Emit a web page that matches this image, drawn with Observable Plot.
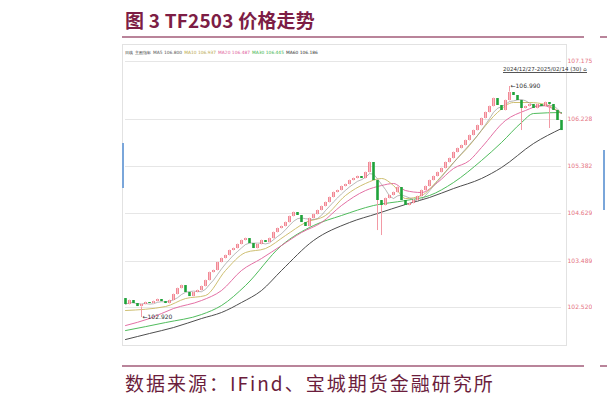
<!DOCTYPE html>
<html><head><meta charset="utf-8">
<script src="https://cdn.jsdelivr.net/npm/d3@7"></script>
<script src="https://cdn.jsdelivr.net/npm/@observablehq/plot@0.6"></script>
<style>
body{margin:0;background:#fff;}
#wrap{position:relative;width:607px;height:405px;overflow:hidden;font-family:"Noto Sans CJK SC","Noto Sans",sans-serif;}
#title{position:absolute;left:125px;top:10px;font-size:19px;line-height:19px;font-weight:700;color:#7d1d45;white-space:nowrap;letter-spacing:0.2px;}
.rule{position:absolute;height:2px;background:#b9849a;}
#panel{position:absolute;left:122px;top:44px;width:445px;height:302px;border:1px solid #e2e2e2;box-sizing:border-box;}
#chart{position:absolute;left:122px;top:44px;}
#legend{position:absolute;left:125px;top:50px;font-size:4.4px;line-height:5px;white-space:nowrap;color:#666;font-family:"DejaVu Sans",sans-serif;}
#legend span{margin-right:2px;}
#range{position:absolute;left:503px;top:66px;font-size:5.5px;line-height:6px;color:#333;border-bottom:1px solid #555;white-space:nowrap;font-family:"DejaVu Sans",sans-serif;}
#source{position:absolute;left:125px;top:373px;font-size:19px;line-height:19px;color:#6b1d3c;white-space:nowrap;letter-spacing:2px;}
.blue{position:absolute;width:2px;background:#7aa6da;}
</style></head>
<body><div id="wrap">
<div id="title">图 3 TF2503 价格走势</div>
<div class="rule" style="left:122px;top:36px;width:462px"></div>
<div class="rule" style="left:600px;top:36px;width:7px"></div>
<div id="panel"></div>
<div class="blue" style="left:122px;top:143px;height:45px"></div>
<div class="blue" style="left:603px;top:150px;height:60px"></div>
<div id="chart"></div>
<div id="legend"></div>
<div id="range">2024/12/27-2025/02/14 (30) ⌂</div>
<div class="rule" style="left:122px;top:365px;width:462px"></div>
<div class="rule" style="left:600px;top:365px;width:7px"></div>
<div id="source">数据来源：IFind、宝城期货金融研究所</div>
</div>
<script>
// daily closes (TF2503)
const firstOpen = 103.254;
const closes = [
103.149,103.219,103.166,103.113,103.149,103.184,103.166,103.201,103.237,103.201,
103.166,103.219,103.325,103.430,103.483,103.360,103.289,103.360,103.395,103.466,
103.571,103.712,103.748,103.889,103.959,104.012,104.100,104.135,104.206,104.276,
104.311,104.223,104.135,104.206,104.276,104.241,104.311,104.417,104.488,104.523,
104.593,104.699,104.770,104.717,104.593,104.523,104.664,104.734,104.805,104.875,
104.946,105.034,105.122,105.157,105.228,105.263,105.333,105.369,105.404,105.369,
105.474,105.651,105.333,104.981,104.893,105.016,105.069,105.122,105.210,104.981,
104.893,104.928,104.981,105.051,105.157,105.228,105.333,105.404,105.474,105.545,
105.651,105.721,105.827,105.897,105.950,106.038,106.126,106.214,106.302,106.426,
106.532,106.637,106.778,106.655,106.567,106.743,106.884,106.831,106.743,106.602,
106.637,106.673,106.602,106.673,106.637,106.708,106.673,106.567,106.391,106.214
];
// notable wicks
const wicks = [
  {i:4, low:102.919, label:"←102.920"},
  {i:63, low:104.452},
  {i:64, low:104.364},
  {i:96, high:106.990, label:"←106.990"},
  {i:99, low:106.214},
  {i:106, low:106.250}
];
// moving averages (index, value)
const maLong = [[0,102.532],[6,102.638],[12,102.743],[19,102.902],[24,103.008],[29,103.184],[34,103.395],[39,103.748],[47,104.276],[56,104.593],[63,104.752],[70,104.911],[76,105.034],[82,105.192],[89,105.369],[94,105.562],[102,105.985],[109,106.250]];
const maGreen = [[0,102.690],[10,102.831],[19,102.972],[24,103.131],[30,103.483],[39,104.188],[47,104.540],[54,104.717],[62,104.893],[70,104.981],[76,105.069],[82,105.298],[89,105.686],[94,106.003],[99,106.355],[102,106.514],[109,106.532]];
const maPink = [[0,102.778],[6,102.902],[12,103.078],[19,103.219],[24,103.395],[29,103.748],[34,103.959],[39,104.188],[44,104.417],[49,104.593],[54,104.893],[60,105.157],[64,105.245],[67,105.281],[70,105.157],[74,105.122],[78,105.298],[82,105.545],[86,105.686],[89,105.915],[95,106.391],[100,106.567],[104,106.655],[109,106.514]];
const maOlive = [[0,103.043],[10,103.113],[15,103.254],[20,103.307],[25,103.748],[30,104.065],[35,104.135],[40,104.364],[45,104.593],[50,104.717],[55,105.069],[60,105.281],[64,105.369],[67,105.245],[70,105.016],[74,105.069],[78,105.333],[82,105.651],[86,105.950],[89,106.214],[93,106.532],[97,106.708],[101,106.708],[105,106.673],[109,106.514]];
// y axis
const yTicks = [107.430, 106.409, 105.580, 104.752, 103.906, 103.096];
const yTickLabels = ["107.175","106.228","105.382","104.629","103.489","102.520"];
// legend row
const legendItems = [
  {t:"日线", c:"#333"}, {t:"主图指标", c:"#333"},
  {t:"MA5 106.800", c:"#555"}, {t:"MA10 106.937", c:"#b8a84a"},
  {t:"MA20 106.487", c:"#e0609a"}, {t:"MA30 106.445", c:"#3cb44b"},
  {t:"MA60 106.186", c:"#333"}
];

const candles = closes.map((c, i) => ({i, open: i === 0 ? firstOpen : closes[i - 1], close: c}));
const wickRows = wicks.map(w => {
  const k = candles[w.i];
  return {i: w.i, y1: w.low ?? Math.min(k.open, k.close), y2: w.high ?? Math.max(k.open, k.close), label: w.label, ly: w.high ?? w.low};
});
const toRows = a => a.map(([i, v]) => ({i, v}));
const upC = "#ee6b7a", downC = "#1fa33a";

const chart = Plot.plot({
  width: 470, height: 302,
  marginLeft: 3, marginRight: 31, marginTop: 0, marginBottom: 0,
  style: {background: "transparent"},
  x: {domain: [0, closes.length - 1], axis: null},
  y: {domain: [102.409, 107.730], axis: null},
  marks: [
    Plot.gridY(yTicks, {stroke: "#e6e6e6", strokeOpacity: 1}),
    Plot.axisY(yTicks, {anchor: "right", tickSize: 0, tickPadding: 6, fontSize: 6,
      tickFormat: d => yTickLabels[yTicks.indexOf(d)], fill: "#e5737f", fontFamily: "DejaVu Sans"}),
    Plot.line(toRows(maLong), {x: "i", y: "v", stroke: "#3a3a3a", strokeWidth: 0.9, curve: "monotone-x"}),
    Plot.line(toRows(maGreen), {x: "i", y: "v", stroke: "#3cb44b", strokeWidth: 0.9, curve: "monotone-x"}),
    Plot.line(toRows(maPink), {x: "i", y: "v", stroke: "#e0609a", strokeWidth: 0.9, curve: "monotone-x"}),
    Plot.line(toRows(maOlive), {x: "i", y: "v", stroke: "#c8b862", strokeWidth: 0.9, curve: "monotone-x"}),
    Plot.lineY(closes, Plot.windowY({k: 5, anchor: "end"}, {x: (d, i) => i, y: d => d, stroke: "#888", strokeWidth: 0.6})),
    Plot.ruleX(wickRows, {x: "i", y1: "y1", y2: "y2", stroke: "#f29aa5", strokeWidth: 1}),
    Plot.ruleX(candles, {x: "i", y1: "open", y2: "close", stroke: d => d.close >= d.open ? upC : downC, strokeWidth: 2.6}),
    Plot.ruleX(candles.filter(d => d.close >= d.open), {x: "i", y1: "open", y2: "close", stroke: "#fbd3d8", strokeWidth: 0.8, insetTop: 1, insetBottom: 1}),
    Plot.text(wickRows.filter(d => d.label), {x: "i", y: "ly", text: "label", textAnchor: "start", dx: 1, fontSize: 6, fill: "#333", fontFamily: "DejaVu Sans"})
  ]
});
document.getElementById("chart").appendChild(chart);
const lg = document.getElementById("legend");
legendItems.forEach(it => { const s = document.createElement("span"); s.textContent = it.t; s.style.color = it.c; lg.appendChild(s); });
</script>
</body></html>
